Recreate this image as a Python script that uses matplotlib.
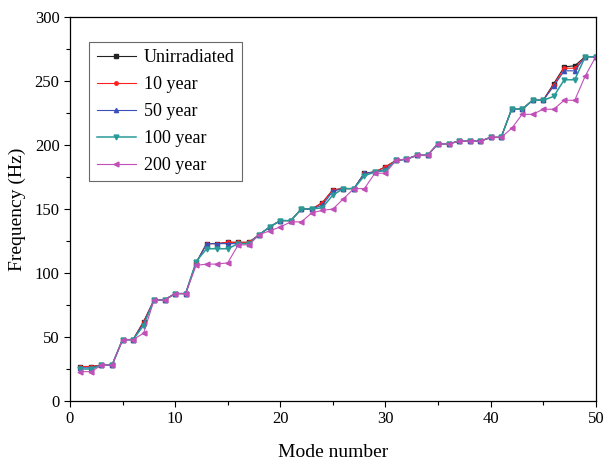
import matplotlib
matplotlib.use('Agg')
import matplotlib.pyplot as plt
import numpy as np
from matplotlib.ticker import MultipleLocator

plt.rcParams['font.family'] = ['Liberation Serif', 'DejaVu Serif']

mode = list(range(1, 51))
unirr = [27, 27, 28, 28, 48, 48, 62, 79, 79, 84, 84, 108, 123, 123, 124, 124, 124, 130, 136, 141,
         141, 150, 150, 155, 165, 166, 166, 178, 179, 183, 188, 189, 192, 192, 201, 201, 203, 203, 203, 206,
         206, 228, 228, 235, 235, 248, 261, 262, 269, 269]
y10 = [27, 27, 28, 28, 48, 48, 62, 79, 79, 84, 84, 108, 123, 123, 124, 124, 124, 130, 136, 141,
       141, 150, 150, 155, 165, 166, 166, 178, 179, 183, 188, 189, 192, 192, 201, 201, 203, 203, 203, 206,
       206, 228, 228, 235, 235, 247, 260, 260, 269, 269]
y50 = [26, 26, 28, 28, 48, 48, 61, 79, 79, 84, 84, 108, 123, 123, 123, 123, 123, 130, 136, 141,
       141, 150, 150, 153, 164, 166, 166, 178, 179, 181, 188, 189, 192, 192, 201, 201, 203, 203, 203, 206,
       206, 228, 228, 235, 235, 246, 258, 258, 269, 269]
y100 = [25, 25, 28, 28, 48, 48, 59, 79, 79, 84, 84, 109, 119, 119, 119, 123, 123, 130, 136, 141,
        141, 150, 150, 151, 161, 166, 166, 176, 179, 180, 188, 189, 192, 192, 201, 201, 203, 203, 203, 206,
        206, 228, 228, 235, 235, 238, 251, 251, 269, 269]
y200 = [23, 23, 28, 28, 48, 48, 53, 79, 79, 84, 84, 106, 107, 107, 108, 122, 122, 130, 133, 136,
        140, 140, 147, 149, 150, 158, 166, 166, 178, 178, 188, 189, 192, 192, 201, 201, 203, 203, 203, 206,
        206, 213, 224, 224, 228, 228, 235, 235, 254, 269]

fig = plt.figure(figsize=(6.03, 4.61), dpi=100)
ax = fig.add_axes([0.116, 0.130, 0.872, 0.833])

ax.plot(mode, unirr, color='#222222', marker='s', ms=2.5, lw=0.8, label='Unirradiated')
ax.plot(mode, y10, color='#ff2020', marker='o', ms=2.5, lw=0.8, label='10 year')
ax.plot(mode, y50, color='#3a4fb8', marker='^', ms=3, lw=0.8, label='50 year')
ax.plot(mode, y100, color='#2a9a98', marker='v', ms=3.5, lw=1.1, label='100 year')
ax.plot(mode, y200, color='#c050b8', marker='<', ms=3.5, lw=0.8, label='200 year')

ax.set_xlim(0, 50)
ax.set_ylim(0, 300)
ax.xaxis.set_major_locator(MultipleLocator(10))
ax.xaxis.set_minor_locator(MultipleLocator(5))
ax.yaxis.set_major_locator(MultipleLocator(50))
ax.yaxis.set_minor_locator(MultipleLocator(25))
ax.tick_params(which='major', direction='out', length=4, width=0.8, labelsize=12)
ax.tick_params(which='minor', direction='out', length=3, width=0.8)
for s in ax.spines.values():
    s.set_linewidth(0.9)

ax.set_xlabel('Mode number', fontsize=14, labelpad=12)
ax.set_ylabel('Frequency (Hz)', fontsize=14, labelpad=6)

leg = ax.legend(loc='upper left', bbox_to_anchor=(0.037, 0.935), fontsize=13, frameon=True,
                fancybox=False, edgecolor='#444444', borderpad=0.4, labelspacing=0.55,
                handlelength=2.2, handletextpad=0.4, borderaxespad=0)
leg.get_frame().set_linewidth(0.8)

fig.savefig('out.png', dpi=100)
